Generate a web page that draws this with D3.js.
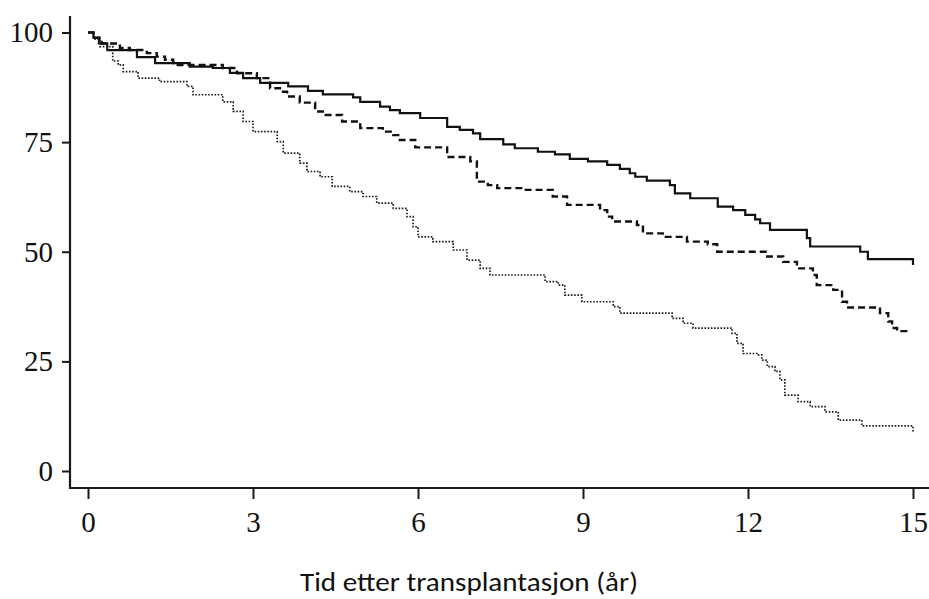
<!DOCTYPE html>
<html>
<head>
<meta charset="utf-8">
<script src="https://cdn.jsdelivr.net/npm/d3@7"></script>
<style>
  body { margin: 0; background: #fff; }
  svg { display: block; }
</style>
</head>
<body>
<div id="chart"></div>
<script>
const width = 929;
const height = 599;

// survival (%) by year after transplant, three groups
const solidYears = [0, 0.1, 0.2, 0.35, 0.89, 1.22, 1.85, 2.27, 2.58, 2.82, 3.13, 3.64, 4.0, 4.27, 4.82, 4.95, 5.31, 5.49, 5.67, 6.04, 6.53, 6.76, 7.0, 7.13, 7.55, 7.76, 8.18, 8.49, 8.76, 9.09, 9.44, 9.67, 9.85, 9.95, 10.16, 10.58, 10.67, 10.95, 11.45, 11.73, 11.95, 12.13, 12.22, 12.4, 13.07, 13.13, 14.04, 14.18, 15.0, 15.0];
const solidSurv  = [100, 98.8, 97.5, 96.0, 94.4, 93.0, 92.2, 91.9, 90.8, 89.6, 88.5, 87.7, 86.7, 85.9, 85.2, 84.2, 83.1, 82.3, 81.6, 80.5, 78.5, 77.8, 77.0, 75.7, 74.5, 73.6, 72.8, 72.2, 71.2, 70.6, 69.8, 68.9, 67.9, 67.1, 66.2, 65.2, 63.3, 62.2, 60.3, 59.5, 58.4, 57.4, 56.5, 55.0, 53.1, 51.2, 50.0, 48.3, 48.3, 47.0];

const dashYears = [0, 0.1, 0.25, 0.58, 0.76, 1.07, 1.25, 1.4, 1.55, 2.45, 2.71, 3.07, 3.31, 3.49, 3.62, 3.85, 4.13, 4.27, 4.62, 4.95, 5.36, 5.55, 5.67, 5.95, 6.53, 6.95, 7.07, 7.27, 7.44, 7.91, 8.45, 8.71, 9.31, 9.44, 9.53, 9.98, 10.09, 10.45, 10.89, 11.27, 11.44, 12.35, 12.64, 12.89, 13.18, 13.25, 13.55, 13.71, 13.8, 14.4, 14.55, 14.62, 14.71, 14.9];
const dashSurv  = [100, 98.8, 97.5, 96.5, 96.0, 95.3, 94.5, 93.8, 92.6, 91.9, 90.7, 89.6, 87.3, 86.5, 85.4, 84.0, 82.0, 81.2, 79.7, 78.2, 77.4, 76.6, 75.5, 73.8, 71.6, 70.6, 66.0, 65.2, 64.5, 64.1, 62.6, 60.7, 59.5, 58.0, 56.9, 56.1, 54.2, 53.4, 52.3, 51.7, 50.0, 48.9, 47.7, 46.2, 44.7, 42.4, 41.3, 38.6, 37.3, 36.0, 34.1, 32.6, 31.9, 31.5];

const dotYears = [0, 0.1, 0.22, 0.45, 0.55, 0.64, 0.91, 1.3, 1.8, 1.91, 2.45, 2.64, 2.82, 3.0, 3.44, 3.55, 3.85, 3.98, 4.22, 4.44, 4.76, 5.0, 5.25, 5.55, 5.8, 5.91, 6.0, 6.27, 6.64, 6.89, 7.13, 7.31, 8.31, 8.55, 8.67, 8.98, 9.55, 9.67, 10.62, 10.82, 11.0, 11.71, 11.8, 11.91, 12.16, 12.25, 12.35, 12.49, 12.58, 12.67, 12.91, 13.13, 13.4, 13.64, 14.07, 15.0, 15.0];
const dotSurv  = [100, 98.5, 96.8, 93.5, 92.6, 91.1, 89.6, 88.8, 87.7, 85.8, 84.2, 82.0, 79.7, 77.4, 75.1, 72.5, 70.2, 68.3, 67.1, 64.9, 63.7, 62.6, 61.1, 59.9, 58.0, 55.7, 53.4, 52.3, 50.4, 48.1, 46.2, 44.7, 43.2, 42.4, 40.1, 38.6, 37.5, 36.0, 34.8, 33.7, 32.6, 31.4, 29.1, 26.8, 26.5, 25.3, 23.8, 22.7, 20.8, 17.3, 15.8, 14.7, 13.5, 11.6, 10.3, 10.3, 9.0];

const xTicks = [0, 3, 6, 9, 12, 15];
const yTicks = [0, 25, 50, 75, 100];
const xTitle = "Tid etter transplantasjon (år)";

const svg = d3.select("#chart")
  .append("svg")
  .attr("width", width)
  .attr("height", height);

const x = d3.scaleLinear().domain([0, 15]).range([88, 913]);
const y = d3.scaleLinear().domain([0, 100]).range([471, 32.5]);

const axisColor = "#1a1a1a";

// y axis
const gy = svg.append("g")
  .attr("transform", "translate(70,0)")
  .call(d3.axisLeft(y).tickValues(yTicks).tickSize(8).tickPadding(9).tickSizeOuter(0));
gy.select(".domain").remove();
gy.selectAll(".tick line").attr("stroke", axisColor).attr("stroke-width", 2);
gy.selectAll(".tick text")
  .attr("font-family", "'Liberation Serif', 'Times New Roman', serif")
  .attr("font-size", 29)
  .attr("fill", "#111");

// x axis
const gx = svg.append("g")
  .attr("transform", "translate(0,488)")
  .call(d3.axisBottom(x).tickValues(xTicks).tickSize(11).tickPadding(12).tickSizeOuter(0));
gx.select(".domain").remove();
gx.selectAll(".tick line").attr("stroke", axisColor).attr("stroke-width", 2);
gx.selectAll(".tick text")
  .attr("font-family", "'Liberation Serif', 'Times New Roman', serif")
  .attr("font-size", 29)
  .attr("fill", "#111");

// axis lines
svg.append("line")
  .attr("x1", 70).attr("x2", 70).attr("y1", 16).attr("y2", 489)
  .attr("stroke", axisColor).attr("stroke-width", 2.2);
svg.append("line")
  .attr("x1", 69).attr("x2", width).attr("y1", 488).attr("y2", 488)
  .attr("stroke", axisColor).attr("stroke-width", 2.2);

// curves
const line = d3.line()
  .x(d => x(d[0]))
  .y(d => y(d[1]))
  .curve(d3.curveStepAfter);

const series = [
  { years: solidYears, surv: solidSurv, dash: null, w: 2.2, color: "#111" },
  { years: dashYears, surv: dashSurv, dash: "7,4", w: 2.4, color: "#111" },
  { years: dotYears, surv: dotSurv, dash: "1.6,1.6", w: 1.7, color: "#1a1a1a" }
];

series.forEach(s => {
  const pts = s.years.map((t, i) => [t, s.surv[i]]);
  svg.append("path")
    .datum(pts)
    .attr("d", line)
    .attr("fill", "none")
    .attr("stroke", s.color)
    .attr("stroke-width", s.w)
    .attr("stroke-dasharray", s.dash);
});

// x title
svg.append("text")
  .attr("x", 469)
  .attr("y", 591)
  .attr("text-anchor", "middle")
  .attr("font-family", "Carlito, Calibri, Lato, sans-serif")
  .attr("font-size", 27)
  .attr("textLength", 338)
  .attr("lengthAdjust", "spacingAndGlyphs")
  .attr("fill", "#111")
  .text(xTitle);
</script>
</body>
</html>
